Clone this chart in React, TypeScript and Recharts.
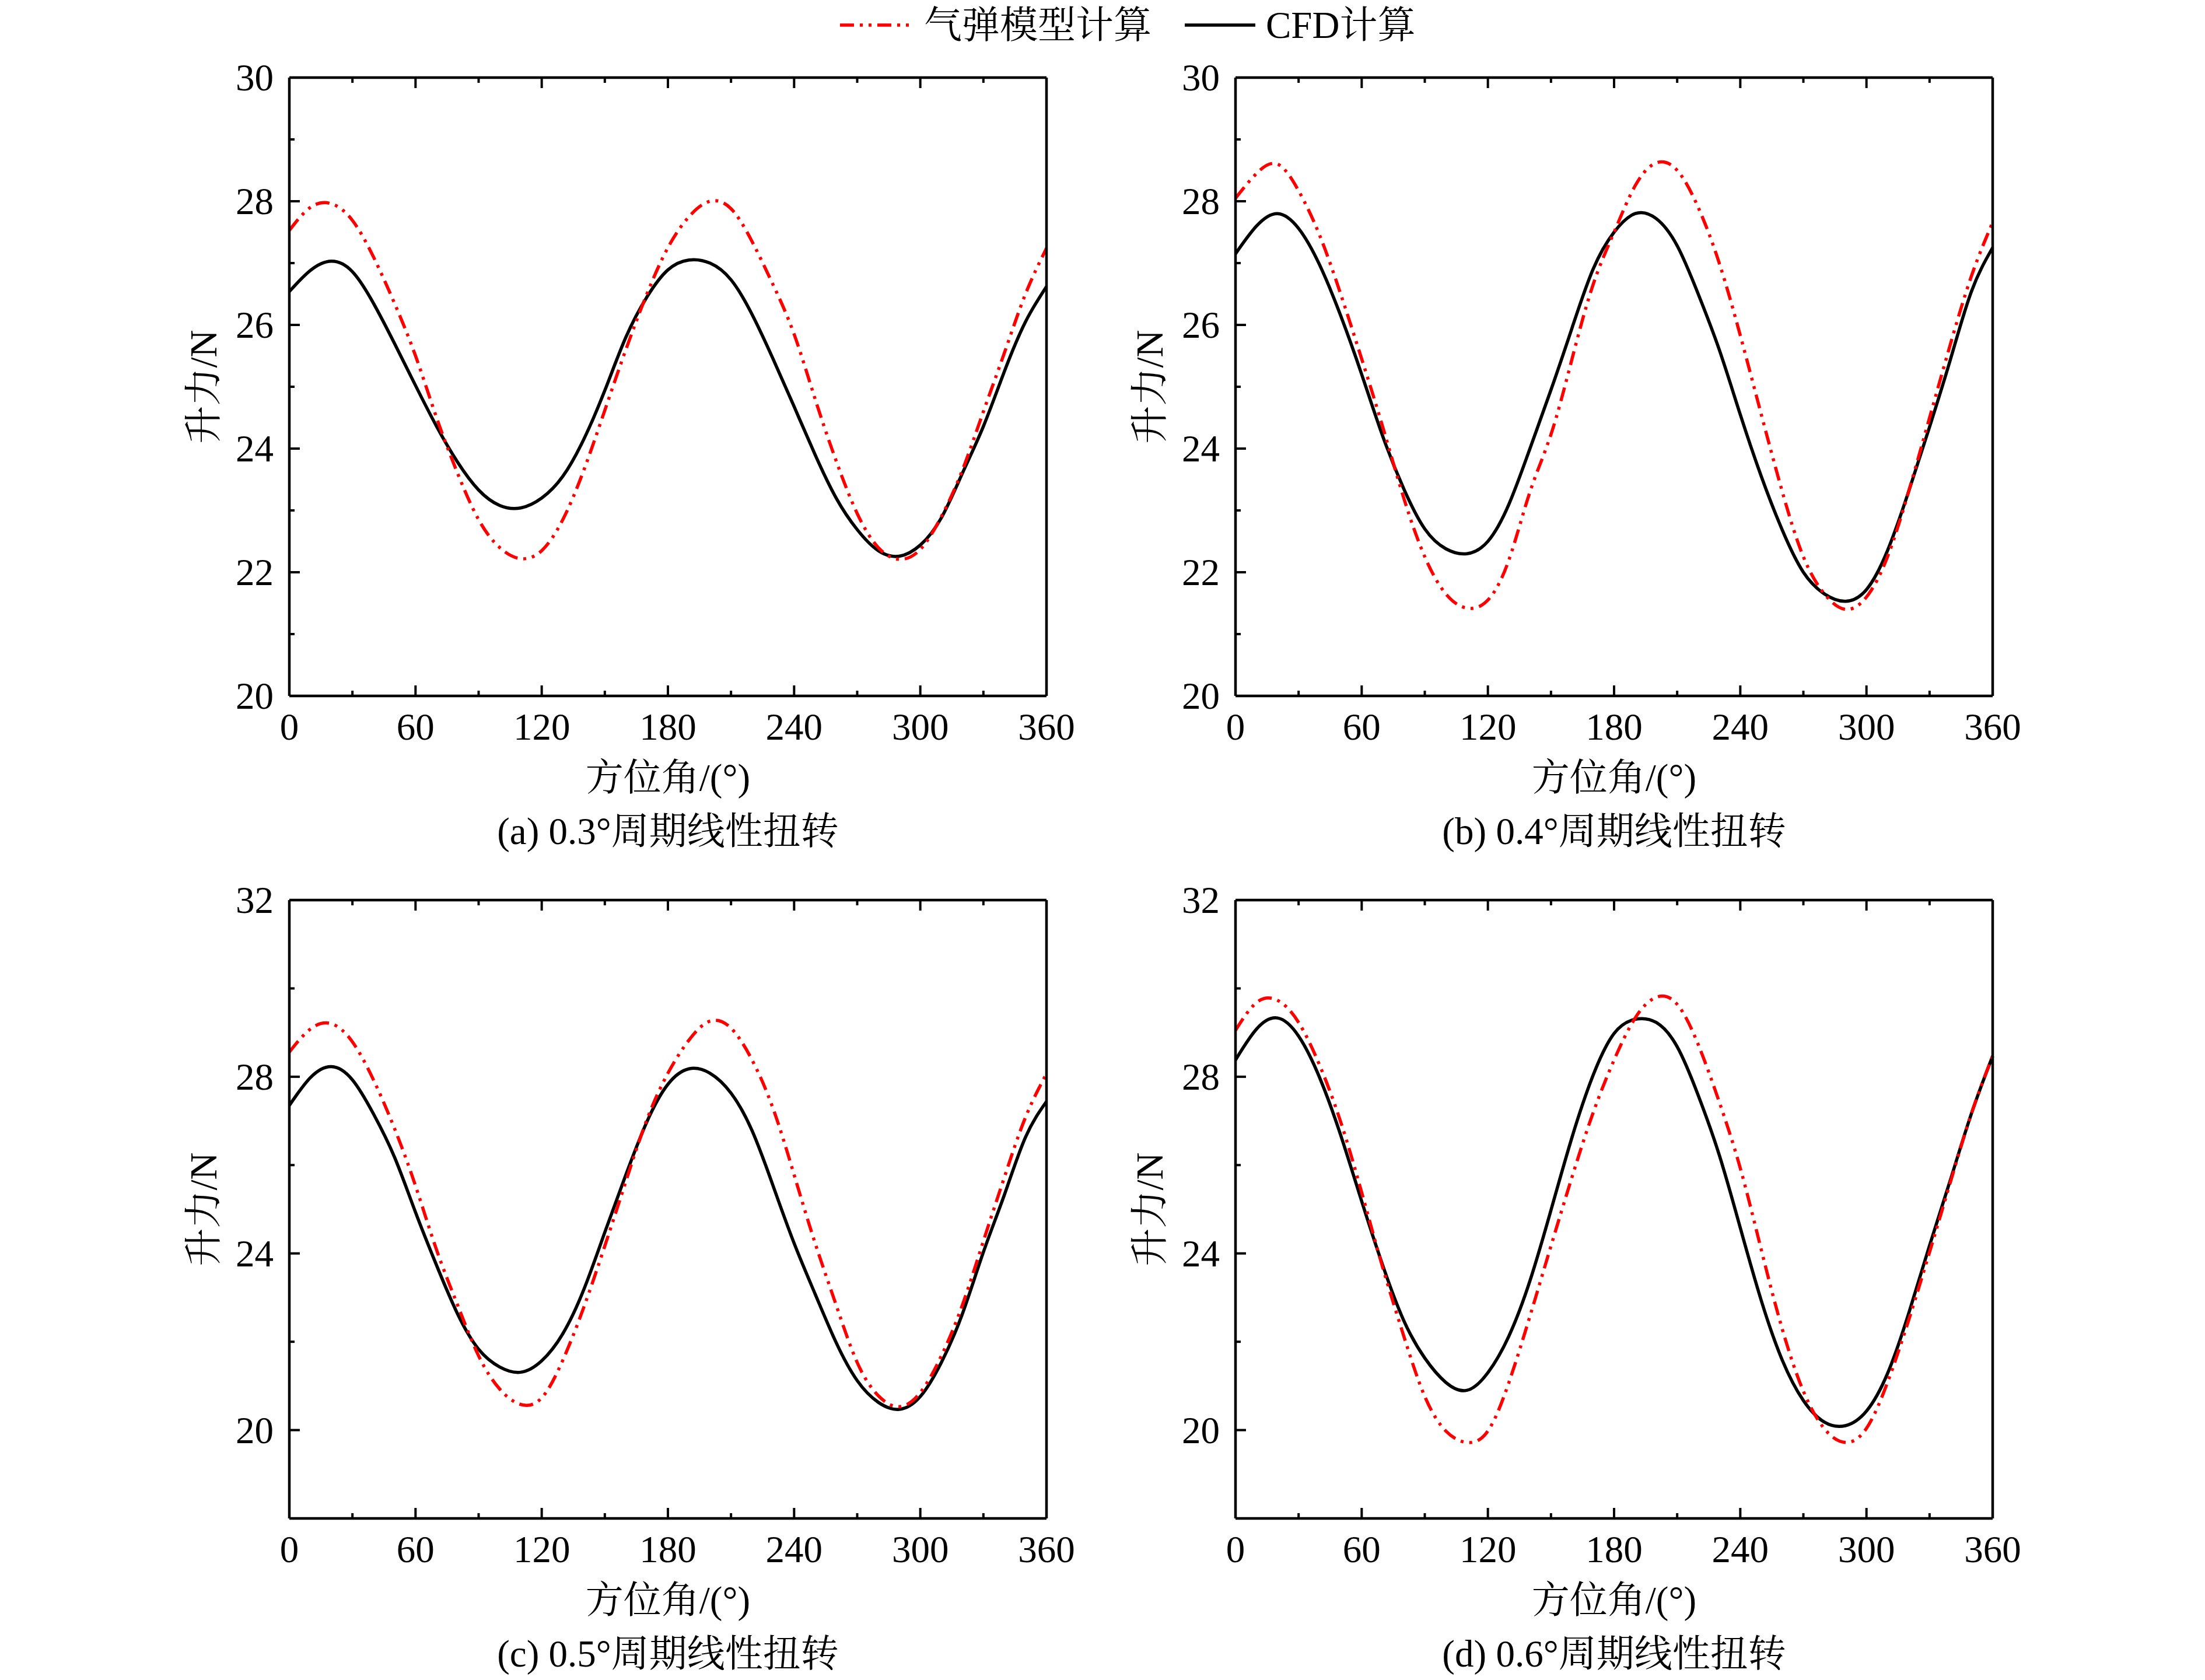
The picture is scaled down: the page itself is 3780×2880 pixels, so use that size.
import React from 'react';
import { LineChart, Line, XAxis, YAxis, Label } from 'recharts';

// ---------- data ----------
const angles = [0, 10, 20, 30, 40, 50, 60, 70, 80, 90, 100, 110, 120, 130, 140, 150, 160, 170, 180,
  190, 200, 210, 220, 230, 240, 250, 260, 270, 280, 290, 300, 310, 320, 330, 340, 350, 360];

// (a) 0.3°
const redA = [27.53, 27.9, 27.96, 27.69, 27.1, 26.35, 25.5, 24.5, 23.6, 22.85, 22.4, 22.22, 22.35, 22.85,
  23.65, 24.62, 25.6, 26.5, 27.25, 27.75, 28.0, 27.88, 27.35, 26.65, 25.85, 24.8, 23.8, 22.95, 22.4, 22.21,
  22.37, 22.9, 23.65, 24.6, 25.55, 26.5, 27.24];
const blackA = [26.54, 26.88, 27.03, 26.86, 26.35, 25.7, 25.02, 24.36, 23.78, 23.33, 23.08, 23.04, 23.2, 23.55,
  24.15, 24.94, 25.8, 26.45, 26.89, 27.05, 27.0, 26.73, 26.17, 25.45, 24.68, 23.9, 23.2, 22.69, 22.35, 22.26,
  22.44, 22.88, 23.6, 24.36, 25.25, 26.05, 26.62];

// (b) 0.4°
const redB = [28.05, 28.45, 28.6, 28.17, 27.45, 26.5, 25.45, 24.35, 23.2, 22.25, 21.65, 21.42, 21.55, 22.2,
  23.3, 24.23, 25.45, 26.65, 27.5, 28.25, 28.62, 28.5, 27.9, 27.0, 25.83, 24.55, 23.3, 22.25, 21.65, 21.4,
  21.6, 22.25, 23.3, 24.5, 25.7, 26.8, 27.66];
const blackB = [27.15, 27.6, 27.8, 27.56, 26.97, 26.15, 25.2, 24.2, 23.35, 22.7, 22.38, 22.3, 22.5, 23.1,
  24.0, 24.95, 25.95, 26.9, 27.5, 27.8, 27.72, 27.28, 26.5, 25.6, 24.55, 23.55, 22.68, 22.0, 21.65, 21.53,
  21.72, 22.35, 23.3, 24.35, 25.45, 26.55, 27.25];

// (c) 0.5°
const redC = [28.56, 29.08, 29.2, 28.79, 27.93, 26.83, 25.53, 24.08, 22.83, 21.68, 20.93, 20.58, 20.73, 21.58,
  22.78, 24.17, 25.63, 27.03, 28.08, 28.83, 29.26, 29.1, 28.38, 27.28, 25.78, 24.23, 22.83, 21.53, 20.78, 20.53,
  20.85, 21.68, 22.83, 24.28, 25.73, 27.08, 28.07];
const blackC = [27.35, 27.98, 28.23, 27.93, 27.16, 26.18, 24.93, 23.73, 22.63, 21.83, 21.43, 21.31, 21.57, 22.18,
  23.18, 24.48, 25.78, 26.98, 27.83, 28.18, 28.08, 27.63, 26.78, 25.53, 24.23, 23.08, 21.98, 21.12, 20.63, 20.47,
  20.76, 21.53, 22.63, 24.03, 25.33, 26.63, 27.44];

// (d) 0.6°
const redD = [29.05, 29.68, 29.73, 29.23, 28.26, 26.98, 25.38, 23.68, 22.13, 20.76, 19.98, 19.72, 19.98, 21.08,
  22.58, 24.17, 25.73, 27.18, 28.38, 29.33, 29.8, 29.64, 28.73, 27.43, 25.93, 24.08, 22.28, 20.88, 20.03, 19.72,
  20.04, 21.08, 22.48, 24.03, 25.63, 27.18, 28.47];
const blackD = [28.38, 29.08, 29.33, 28.92, 27.98, 26.68, 25.18, 23.73, 22.48, 21.63, 21.08, 20.9, 21.3, 22.13,
  23.38, 24.98, 26.63, 28.03, 28.98, 29.3, 29.23, 28.68, 27.58, 26.23, 24.58, 22.93, 21.58, 20.67, 20.18, 20.1,
  20.43, 21.28, 22.63, 24.18, 25.68, 27.18, 28.47];

const xTicks = [0, 30, 60, 90, 120, 150, 180, 210, 240, 270, 300, 330, 360];
const xLabels = [0, 60, 120, 180, 240, 300, 360];
const yTicksTop = [20, 21, 22, 23, 24, 25, 26, 27, 28, 29, 30];
const yLabelsTop = [20, 22, 24, 26, 28, 30];
const yTicksBottom = [18, 20, 22, 24, 26, 28, 30, 32];
const yLabelsBottom = [20, 24, 28, 32];

const captions = ['(a) 0.3°周期线性扭转', '(b) 0.4°周期线性扭转', '(c) 0.5°周期线性扭转', '(d) 0.6°周期线性扭转'];
const xTitle = '方位角/(°)';
const yTitle = '升力/N';
const seriesNames = ['气弹模型计算', 'CFD计算'];

// ---------- styles ----------
const FONT = "'Liberation Serif', 'Noto Serif CJK SC', 'Noto Sans CJK SC', serif";
const FS = 65;
const RED = '#ff0000';
const DASH = '24 10 5 10 5 10';
const LW = 5.5;
const AXW = 4.5;
const MAJ = 18;
const MIN = 9;

const PW = 1298;
const PH = 1060;
const ML = 260;
const MR = 90;
const MT = 40;
const MB = 300;
// plot area origin inside each chart (axes take 1px each)
const PX = ML + 1;
const PY = MT + 1;

const build = (red: number[], black: number[]) =>
  angles.map((a, i) => ({ x: a, red: red[i], black: black[i] }));

const BottomTick = (props: any) => {
  const { x, y, payload } = props;
  const v = payload.value;
  const major = xLabels.includes(v);
  const edge = v === 0 || v === 360;
  return (
    <g>
      {!edge && <line x1={x} y1={y} x2={x} y2={y - (major ? MAJ : MIN)} stroke="#000" strokeWidth={4} />}
      {major && (
        <text x={x} y={y + 53} textAnchor="middle" dominantBaseline="central" fontFamily={FONT} fontSize={FS} fill="#000">
          {v}
        </text>
      )}
    </g>
  );
};

const TopTick = (props: any) => {
  const { x, y, payload } = props;
  const v = payload.value;
  const major = xLabels.includes(v);
  const edge = v === 0 || v === 360;
  if (edge) return <g />;
  return <line x1={x} y1={y} x2={x} y2={y + (major ? MAJ : MIN)} stroke="#000" strokeWidth={4} />;
};

const makeLeftTick = (labels: number[], lo: number, hi: number) => (props: any) => {
  const { x, y, payload } = props;
  const v = payload.value;
  const major = labels.includes(v);
  const edge = v === lo || v === hi;
  return (
    <g>
      {!edge && <line x1={x} y1={y} x2={x + (major ? MAJ : MIN)} y2={y} stroke="#000" strokeWidth={4} />}
      {major && (
        <text x={x - 27} y={y} textAnchor="end" dominantBaseline="central" fontFamily={FONT} fontSize={FS} fill="#000">
          {v}
        </text>
      )}
    </g>
  );
};

const makeRightTick = (labels: number[], lo: number, hi: number) => (props: any) => {
  const { x, y, payload } = props;
  const v = payload.value;
  const major = labels.includes(v);
  const edge = v === lo || v === hi;
  if (edge) return <g />;
  return <line x1={x} y1={y} x2={x - (major ? MAJ : MIN)} y2={y} stroke="#000" strokeWidth={4} />;
};

type PanelProps = {
  left: number;
  top: number;
  red: number[];
  black: number[];
  domain: [number, number];
  yTicks: number[];
  yLabels: number[];
  caption: string;
};

const Panel = ({ left, top, red, black, domain, yTicks, yLabels, caption }: PanelProps) => {
  const data = build(red, black);
  const W = ML + PW + MR + 2;
  const H = MT + PH + MB + 2;
  const axisLine = { stroke: '#000', strokeWidth: AXW };
  return (
    <div style={{ position: 'absolute', left: left - PX, top: top - PY, width: W, height: H }}>
      <LineChart width={W} height={H} data={data} margin={{ top: MT, right: MR, bottom: MB, left: ML }}>
        <XAxis
          xAxisId="b"
          dataKey="x"
          type="number"
          domain={[0, 360]}
          ticks={xTicks}
          interval={0}
          height={1}
          tickSize={0}
          tickMargin={0}
          tickLine={false}
          axisLine={axisLine}
          tick={BottomTick}
        >
          <Label
            content={() => (
              <g>
                <text x={PX + PW / 2} y={PY + PH + 140} textAnchor="middle" dominantBaseline="central" fontFamily={FONT} fontSize={FS} fill="#000">
                  {xTitle}
                </text>
                <text x={PX + PW / 2} y={PY + PH + 232} textAnchor="middle" dominantBaseline="central" fontFamily={FONT} fontSize={FS} fill="#000">
                  {caption}
                </text>
              </g>
            )}
          />
        </XAxis>
        <XAxis
          xAxisId="t"
          orientation="top"
          dataKey="x"
          type="number"
          domain={[0, 360]}
          ticks={xTicks}
          interval={0}
          height={1}
          tickSize={0}
          tickMargin={0}
          tickLine={false}
          axisLine={axisLine}
          tick={TopTick}
        />
        <YAxis
          yAxisId="l"
          type="number"
          domain={domain}
          ticks={yTicks}
          interval={0}
          width={1}
          tickSize={0}
          tickMargin={0}
          tickLine={false}
          axisLine={axisLine}
          tick={makeLeftTick(yLabels, domain[0], domain[1])}
        >
          <Label
            content={() => (
              <text
                x={PX - 147}
                y={PY + PH / 2}
                transform={`rotate(-90 ${PX - 147} ${PY + PH / 2})`}
                textAnchor="middle"
                dominantBaseline="central"
                fontFamily={FONT}
                fontSize={FS}
                fill="#000"
              >
                {yTitle}
              </text>
            )}
          />
        </YAxis>
        <YAxis
          yAxisId="r"
          orientation="right"
          type="number"
          domain={domain}
          ticks={yTicks}
          interval={0}
          width={1}
          tickSize={0}
          tickMargin={0}
          tickLine={false}
          axisLine={axisLine}
          tick={makeRightTick(yLabels, domain[0], domain[1])}
        />
        <Line
          xAxisId="b"
          yAxisId="l"
          type="natural"
          dataKey="black"
          name={seriesNames[1]}
          stroke="#000"
          strokeWidth={LW}
          dot={false}
          activeDot={false}
          isAnimationActive={false}
        />
        <Line
          xAxisId="b"
          yAxisId="l"
          type="natural"
          dataKey="red"
          name={seriesNames[0]}
          stroke={RED}
          strokeWidth={LW}
          strokeDasharray={DASH}
          dot={false}
          activeDot={false}
          isAnimationActive={false}
        />
      </LineChart>
    </div>
  );
};

const Legend = () => (
  <svg width={3780} height={100} style={{ position: 'absolute', left: 0, top: 0 }}>
    <line x1={1440} y1={43} x2={1560} y2={43} stroke={RED} strokeWidth={LW} strokeDasharray={DASH} />
    <text x={1584} y={43} dominantBaseline="central" fontFamily={FONT} fontSize={FS} fill="#000">
      {seriesNames[0]}
    </text>
    <line x1={2031} y1={43} x2={2152} y2={43} stroke="#000" strokeWidth={LW} />
    <text x={2170} y={43} dominantBaseline="central" fontFamily={FONT} fontSize={FS} fill="#000">
      {seriesNames[1]}
    </text>
  </svg>
);

export default function App() {
  return (
    <div style={{ position: 'absolute', left: 0, top: 0, width: 3780, height: 2880, background: '#fff', overflow: 'hidden' }}>
      <Legend />
      <Panel left={496} top={133} red={redA} black={blackA} domain={[20, 30]} yTicks={yTicksTop} yLabels={yLabelsTop} caption={captions[0]} />
      <Panel left={2118} top={133} red={redB} black={blackB} domain={[20, 30]} yTicks={yTicksTop} yLabels={yLabelsTop} caption={captions[1]} />
      <Panel left={496} top={1543} red={redC} black={blackC} domain={[18, 32]} yTicks={yTicksBottom} yLabels={yLabelsBottom} caption={captions[2]} />
      <Panel left={2118} top={1543} red={redD} black={blackD} domain={[18, 32]} yTicks={yTicksBottom} yLabels={yLabelsBottom} caption={captions[3]} />
    </div>
  );
}
